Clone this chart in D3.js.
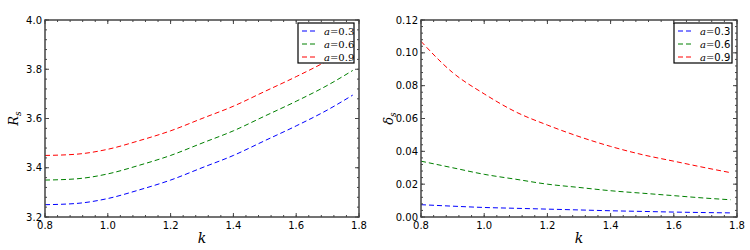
<!DOCTYPE html>
<html>
<head>
<meta charset="utf-8">
<script src="https://cdn.jsdelivr.net/npm/d3@7"></script>
<style>
  body { margin: 0; background: #fff; }
  svg { display: block; }
  .tick-label { font-family: 'DejaVu Sans', sans-serif; font-size: 10px; fill: #000; }
</style>
</head>
<body>
<svg id="chart" width="750" height="250"></svg>
<script>
// values
var kValues = [0.8, 0.9, 1.0, 1.1, 1.2, 1.3, 1.4, 1.5, 1.6, 1.7, 1.78]
var aLabels = ['0.3', '0.6', '0.9']
var seriesColors = ['#0000ff', '#008000', '#ff0000']

var radiusA03 = [3.25, 3.255, 3.275, 3.31, 3.35, 3.40, 3.45, 3.51, 3.57, 3.635, 3.695]
var radiusA06 = [3.35, 3.355, 3.375, 3.41, 3.45, 3.50, 3.55, 3.61, 3.67, 3.735, 3.795]
var radiusA09 = [3.45, 3.455, 3.475, 3.51, 3.55, 3.60, 3.65, 3.71, 3.77, 3.835, 3.895]

var deltaA03 = [0.0075, 0.0066, 0.0058, 0.0053, 0.0048, 0.0043, 0.0038, 0.0034, 0.0030, 0.0027, 0.0025]
var deltaA06 = [0.034, 0.030, 0.026, 0.023, 0.020, 0.018, 0.016, 0.0145, 0.013, 0.0115, 0.0105]
var deltaA09 = [0.107, 0.088, 0.075, 0.064, 0.056, 0.049, 0.043, 0.038, 0.034, 0.030, 0.027]

var xTicks = [0.8, 1.0, 1.2, 1.4, 1.6, 1.8]
var radiusTicks = [3.2, 3.4, 3.6, 3.8, 4.0]
var deltaTicks = [0.00, 0.02, 0.04, 0.06, 0.08, 0.10, 0.12]

var svg = d3.select('#chart')
var plotTop = 20
var plotBottom = 217
var spineColor = '#444'

function minorTicks(lo, hi, step) {
  var out = []
  var n = Math.round((hi - lo) / step)
  for (var i = 0; i <= n; i++) out.push(lo + i * step)
  return out
}

function drawPanel(opts) {
  var x = d3.scaleLinear().domain([0.8, 1.8]).range([opts.left, opts.right])
  var y = d3.scaleLinear().domain(opts.yDomain).range([plotBottom, plotTop])
  var g = svg.append('g')

  var line = d3.line()
    .x(function(d) { return x(d[0]) })
    .y(function(d) { return y(d[1]) })
    .curve(d3.curveMonotoneX)

  opts.series.forEach(function(vals, i) {
    g.append('path')
      .datum(kValues.map(function(k, j) { return [k, vals[j]] }))
      .attr('d', line)
      .attr('fill', 'none')
      .attr('stroke', seriesColors[i])
      .attr('stroke-width', 1)
      .attr('stroke-dasharray', '5,3')
  })

  // ticks pointing inward on all four sides
  var xMinor = minorTicks(0.8, 1.8, 0.04)
  var yMinor = minorTicks(opts.yDomain[0], opts.yDomain[1], opts.yMinorStep)
  var tickG = g.append('g').attr('stroke', spineColor).attr('stroke-width', 1)
  function xTick(v, len) {
    tickG.append('line').attr('x1', x(v)).attr('x2', x(v)).attr('y1', plotBottom).attr('y2', plotBottom - len)
    tickG.append('line').attr('x1', x(v)).attr('x2', x(v)).attr('y1', plotTop).attr('y2', plotTop + len)
  }
  function yTick(v, len) {
    tickG.append('line').attr('x1', opts.left).attr('x2', opts.left + len).attr('y1', y(v)).attr('y2', y(v))
    tickG.append('line').attr('x1', opts.right).attr('x2', opts.right - len).attr('y1', y(v)).attr('y2', y(v))
  }
  xMinor.forEach(function(v) { xTick(v, 2) })
  xTicks.forEach(function(v) { xTick(v, 4) })
  yMinor.forEach(function(v) { yTick(v, 2) })
  opts.yTicks.forEach(function(v) { yTick(v, 4) })

  g.append('rect')
    .attr('x', opts.left).attr('y', plotTop)
    .attr('width', opts.right - opts.left).attr('height', plotBottom - plotTop)
    .attr('fill', 'none').attr('stroke', spineColor).attr('stroke-width', 1.5)

  xTicks.forEach(function(v) {
    g.append('text').attr('class', 'tick-label')
      .attr('x', x(v)).attr('y', plotBottom + 12)
      .attr('text-anchor', 'middle')
      .text(d3.format('.1f')(v))
  })
  opts.yTicks.forEach(function(v) {
    g.append('text').attr('class', 'tick-label')
      .attr('x', opts.left - 3).attr('y', y(v) + 3.5)
      .attr('text-anchor', 'end')
      .text(d3.format(opts.yFormat)(v))
  })

  // x label
  g.append('text')
    .attr('x', (opts.left + opts.right) / 2).attr('y', 243)
    .attr('text-anchor', 'middle')
    .style('font-family', 'DejaVu Serif, serif').style('font-style', 'italic').style('font-size', '14px')
    .text('k')

  // y label
  var yl = g.append('text')
    .attr('transform', 'translate(' + opts.yLabelX + ',' + ((plotTop + plotBottom) / 2) + ') rotate(-90)')
    .attr('text-anchor', 'middle')
    .style('font-family', 'DejaVu Serif, serif').style('font-style', 'italic').style('font-size', '13px')
  yl.append('tspan').text(opts.yLabel)
  yl.append('tspan').attr('dy', 3).style('font-size', '9px').text('s')

  // legend
  var lg = g.append('g').attr('transform', 'translate(' + opts.legendX + ',23)')
  lg.append('rect').attr('width', opts.legendW).attr('height', 40)
    .attr('fill', '#fff').attr('stroke', '#000').attr('stroke-width', 1.2)
  aLabels.forEach(function(lbl, i) {
    var ry = 8 + i * 13
    lg.append('line').attr('x1', 4).attr('x2', 19).attr('y1', ry).attr('y2', ry)
      .attr('stroke', seriesColors[i]).attr('stroke-width', 1).attr('stroke-dasharray', '5,3')
    var t = lg.append('text').attr('x', opts.legendTextX).attr('y', ry + 3.5)
      .style('font-size', '10px')
    t.append('tspan').style('font-family', 'DejaVu Serif, serif').style('font-style', 'italic').text('a')
    t.append('tspan').style('font-family', 'DejaVu Serif, serif').text('=')
    t.append('tspan').style('font-family', opts.legendNumFont).text(lbl)
  })
}

drawPanel({
  left: 45, right: 359,
  yDomain: [3.2, 4.0], yTicks: radiusTicks, yMinorStep: 0.04, yFormat: '.1f',
  series: [radiusA03, radiusA06, radiusA09],
  yLabel: 'R', yLabelX: 18,
  legendX: 298, legendW: 56, legendTextX: 26, legendNumFont: 'DejaVu Serif, serif'
})

drawPanel({
  left: 421, right: 737,
  yDomain: [0, 0.12], yTicks: deltaTicks, yMinorStep: 0.004, yFormat: '.2f',
  series: [deltaA03, deltaA06, deltaA09],
  yLabel: 'δ', yLabelX: 393,
  legendX: 674, legendW: 58, legendTextX: 26, legendNumFont: 'DejaVu Sans, sans-serif'
})
</script>
</body>
</html>
